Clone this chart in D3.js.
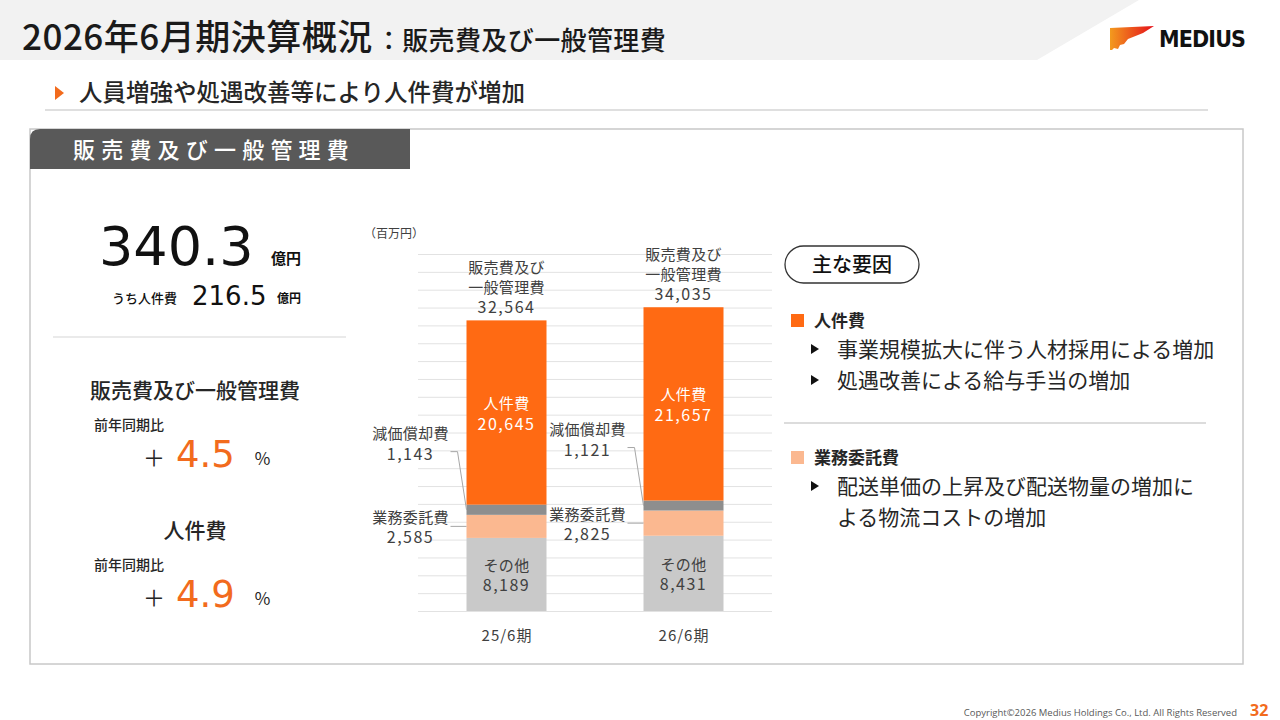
<!DOCTYPE html>
<html>
<head>
<meta charset="utf-8">
<script src="https://cdn.jsdelivr.net/npm/d3@7"></script>
<style>
  body { margin: 0; background: #fff; }
  svg { display: block; font-family: "Noto Sans CJK JP", "Noto Sans", sans-serif; }
</style>
</head>
<body>
<div id="slide"></div>
<script>
// chart data (百万円)
var periods = ['25/6期', '26/6期']
var segmentNames = ['その他', '業務委託費', '減価償却費', '人件費']
var otherVals = [8189, 8431]
var outsourcingVals = [2585, 2825]
var depreciationVals = [1143, 1121]
var personnelVals = [20645, 21657]
var totalVals = [32564, 34035]
var yMax = 40000
var gridStep = 2000

// left summary panel
var totalOku = '340.3'
var personnelOku = '216.5'
var sgaYoY = '4.5'
var personnelYoY = '4.9'

// right panel texts
var factorGroups = [
  { name: '人件費', color: '#FF6A13', lines: [['事業規模拡大に伴う人材採用による増加'], ['処遇改善による給与手当の増加']] },
  { name: '業務委託費', color: '#FBB890', lines: [['配送単価の上昇及び配送物量の増加に', 'よる物流コストの増加']] }
]

var colors = { 'その他': '#C9C9C9', '業務委託費': '#FBB890', '減価償却費': '#8E8E8E', '人件費': '#FF6A13' }
var textDark = '#262626'
var bigNumFont = '"DejaVu Sans", "Open Sans", sans-serif'

var svg = d3.select('#slide').append('svg')
  .attr('width', 1280)
  .attr('height', 720)
  .attr('viewBox', '0 0 1280 720')

// ---- header ----
svg.append('path')
  .attr('d', 'M0,0 L1139,0 L1037,60 L0,60 Z')
  .attr('fill', '#F2F2F2')

var title = svg.append('text')
  .attr('x', 22).attr('y', 50)
  .attr('fill', '#1a1a1a')
title.append('tspan').attr('font-size', 35).attr('font-weight', 500).attr('letter-spacing', 0.5).text('2026年6月期決算概況')
title.append('tspan').attr('font-size', 26).attr('font-weight', 500).attr('dx', 3).attr('letter-spacing', 0.4).text('：販売費及び一般管理費')

// logo
var grad = svg.append('defs').append('linearGradient').attr('id', 'logoGrad')
  .attr('x1', '0%').attr('x2', '100%')
grad.append('stop').attr('offset', '0%').attr('stop-color', '#F39A1E')
grad.append('stop').attr('offset', '100%').attr('stop-color', '#E50F1A')
svg.append('path')
  .attr('d', 'M1110,28 L1154,26 L1143,33 L1128,39 L1124,44 L1120,45 L1118,49 L1114,48 L1112,50 L1110,50 Z')
  .attr('fill', 'url(#logoGrad)')
svg.append('text')
  .attr('x', 1159).attr('y', 47)
  .attr('font-family', '"DejaVu Sans Condensed", "DejaVu Sans", sans-serif')
  .attr('font-weight', 'bold')
  .attr('font-size', 23)
  .attr('textLength', 87)
  .attr('fill', '#111')
  .text('MEDIUS')

// headline
svg.append('path').attr('d', 'M55,86 L64,93 L55,100 Z').attr('fill', '#F26B1D')
svg.append('text')
  .attr('x', 79).attr('y', 101)
  .attr('font-size', 23.5).attr('font-weight', 500)
  .attr('fill', textDark)
  .text('人員増強や処遇改善等により人件費が増加')
svg.append('line')
  .attr('x1', 45).attr('x2', 1208).attr('y1', 110).attr('y2', 110)
  .attr('stroke', '#BFBFBF').attr('stroke-width', 1)

// ---- panel ----
svg.append('rect')
  .attr('x', 30).attr('y', 129).attr('width', 1213).attr('height', 535)
  .attr('fill', 'none').attr('stroke', '#C8C8C8').attr('stroke-width', 1.5)
svg.append('path')
  .attr('d', 'M30,169 L30,139 Q30,129 40,129 L410,129 L410,169 Z')
  .attr('fill', '#595959')
svg.append('text')
  .attr('x', 73).attr('y', 158)
  .attr('font-size', 22).attr('font-weight', 500)
  .attr('letter-spacing', 6.2)
  .attr('fill', '#fff')
  .text('販売費及び一般管理費')

// ---- left summary ----
var left = svg.append('g')
left.append('text').attr('x', 99).attr('y', 265)
  .attr('font-family', bigNumFont)
  .attr('font-size', 54).attr('fill', '#111')
  .text(totalOku)
left.append('text').attr('x', 271).attr('y', 264)
  .attr('font-size', 15).attr('font-weight', 700).attr('fill', '#111')
  .text('億円')
left.append('text').attr('x', 112).attr('y', 303)
  .attr('font-size', 13).attr('font-weight', 500).attr('fill', '#111')
  .text('うち人件費')
left.append('text').attr('x', 192).attr('y', 305)
  .attr('font-family', bigNumFont)
  .attr('font-size', 26).attr('fill', '#111')
  .text(personnelOku)
left.append('text').attr('x', 277).attr('y', 303)
  .attr('font-size', 12).attr('font-weight', 700).attr('fill', '#111')
  .text('億円')
left.append('line')
  .attr('x1', 53).attr('x2', 346).attr('y1', 337).attr('y2', 337)
  .attr('stroke', '#E3E3E3').attr('stroke-width', 1.5)

function yoyBlock(label, value, top){
  left.append('text').attr('x', 195).attr('y', top)
    .attr('text-anchor', 'middle')
    .attr('font-size', 21).attr('font-weight', 500).attr('fill', textDark)
    .text(label)
  left.append('text').attr('x', 94).attr('y', top + 32)
    .attr('font-size', 14).attr('font-weight', 500).attr('fill', textDark)
    .text('前年同期比')
  left.append('text').attr('x', 143).attr('y', top + 68)
    .attr('font-size', 22).attr('fill', textDark)
    .text('＋')
  left.append('text').attr('x', 176).attr('y', top + 69)
    .attr('font-family', bigNumFont)
    .attr('font-size', 37).attr('fill', '#F26B1D')
    .text(value)
  left.append('text').attr('x', 254).attr('y', top + 67)
    .attr('font-size', 17).attr('fill', textDark)
    .text('％')
}
yoyBlock('販売費及び一般管理費', sgaYoY, 398)
yoyBlock('人件費', personnelYoY, 538)

// ---- stacked bar chart ----
var table = periods.map(function(p, i){
  return { period: p, 'その他': otherVals[i], '業務委託費': outsourcingVals[i], '減価償却費': depreciationVals[i], '人件費': personnelVals[i], total: totalVals[i] }
})

var x = d3.scalePoint().domain(periods).range([418, 772]).padding(0.5)
var y = d3.scaleLinear().domain([0, yMax]).range([611, 254])
var barW = 80

var chart = svg.append('g')

chart.append('g')
  .attr('transform', 'translate(418,0)')
  .call(d3.axisLeft(y).tickValues(d3.range(0, yMax + 1, gridStep)).tickSize(-354).tickFormat(''))
  .call(function(g){
    g.select('.domain').remove()
    g.selectAll('.tick line').attr('stroke', '#E2E2E2').attr('stroke-width', 1)
  })

chart.append('text')
  .attr('x', 364).attr('y', 232)
  .attr('dominant-baseline', 'central')
  .attr('font-size', 12).attr('fill', '#404040')
  .text('（百万円）')

var stack = d3.stack().keys(segmentNames)(table)

chart.selectAll('g.layer')
  .data(stack)
  .join('g')
  .attr('class', 'layer')
  .attr('fill', function(d){ return colors[d.key] })
  .selectAll('rect')
  .data(function(d){ return d })
  .join('rect')
  .attr('x', function(d){ return x(d.data.period) - barW / 2 })
  .attr('y', function(d){ return y(d[1]) })
  .attr('width', barW)
  .attr('height', function(d){ return y(d[0]) - y(d[1]) })

function multiline(g, cx, cy, lines, color, gap){
  var t = g.append('text')
    .attr('text-anchor', 'middle')
    .attr('font-size', 15)
    .attr('fill', color)
  lines.forEach(function(l, i){
    var isNum = /^[\d,]+$/.test(l)
    t.append('tspan')
      .attr('x', cx)
      .attr('y', cy + (i - (lines.length - 1) / 2) * gap)
      .attr('dominant-baseline', 'central')
      .attr('font-size', isNum ? 16 : 15)
      .attr('letter-spacing', isNum ? 1.5 : 0.3)
      .text(l)
  })
  return t
}

var fmt = d3.format(',')
var labelColor = '#404040'

stack.forEach(function(layer){
  layer.forEach(function(d){
    var cx = x(d.data.period)
    var mid = (y(d[0]) + y(d[1])) / 2
    var val = fmt(d[1] - d[0])
    if(layer.key === '人件費'){
      multiline(chart, cx, mid, ['人件費', val], '#fff', 20)
    } else if(layer.key === 'その他'){
      multiline(chart, cx, mid, ['その他', val], labelColor, 20)
    } else if(layer.key === '業務委託費'){
      var lx = cx - barW / 2 - 56
      multiline(chart, lx, mid, ['業務委託費', val], labelColor, 20)
      chart.append('line')
        .attr('x1', lx + 40).attr('x2', cx - barW / 2)
        .attr('y1', mid).attr('y2', mid)
        .attr('stroke', '#A6A6A6').attr('stroke-width', 1)
    } else if(layer.key === '減価償却費'){
      var lx2 = cx - barW / 2 - 56
      var ly = y(d[1]) - 62
      multiline(chart, lx2, ly, ['減価償却費', val], labelColor, 20)
      chart.append('polyline')
        .attr('points', [[lx2 + 40, ly + 9], [lx2 + 47, ly + 9], [cx - barW / 2, mid]].join(' '))
        .attr('fill', 'none')
        .attr('stroke', '#A6A6A6').attr('stroke-width', 1)
    }
  })
})

// totals
table.forEach(function(d){
  multiline(chart, x(d.period), y(d.total) - 34, ['販売費及び', '一般管理費', fmt(d.total)], labelColor, 20)
})

// x axis labels
chart.append('g')
  .attr('transform', 'translate(0,611)')
  .call(d3.axisBottom(x).tickSize(0).tickPadding(19))
  .call(function(g){
    g.select('.domain').remove()
    g.selectAll('text')
      .attr('font-family', '"Noto Sans CJK JP", sans-serif')
      .attr('font-size', 15).attr('fill', labelColor)
      .attr('letter-spacing', 1)
  })

// ---- right panel ----
var right = svg.append('g')
right.append('rect')
  .attr('x', 785).attr('y', 246).attr('width', 134).attr('height', 37).attr('rx', 18.5)
  .attr('fill', '#fff').attr('stroke', '#333').attr('stroke-width', 1.3)
right.append('text')
  .attr('x', 852).attr('y', 272)
  .attr('text-anchor', 'middle')
  .attr('font-size', 20).attr('font-weight', 500).attr('fill', '#111')
  .text('主な要因')

var groupTops = [320, 457]
factorGroups.forEach(function(gr, gi){
  var top = groupTops[gi]
  right.append('rect')
    .attr('x', 791).attr('y', top - 6).attr('width', 13).attr('height', 13)
    .attr('fill', gr.color)
  right.append('text')
    .attr('x', 814).attr('y', top + 7)
    .attr('font-size', 17).attr('font-weight', 700).attr('fill', textDark)
    .text(gr.name)
  var rowY = top + 37
  gr.lines.forEach(function(item){
    right.append('path')
      .attr('d', 'M811,' + (rowY - 13) + ' L819,' + (rowY - 8) + ' L811,' + (rowY - 3) + ' Z')
      .attr('fill', '#111')
    item.forEach(function(line){
      right.append('text')
        .attr('x', 837).attr('y', rowY)
        .attr('font-size', 21).attr('fill', textDark)
        .text(line)
      rowY += 31
    })
  })
})
right.append('line')
  .attr('x1', 784).attr('x2', 1206).attr('y1', 423).attr('y2', 423)
  .attr('stroke', '#D0D0D0').attr('stroke-width', 1.5)

// ---- footer ----
svg.append('text')
  .attr('x', 1237).attr('y', 716)
  .attr('text-anchor', 'end')
  .attr('font-family', '"Open Sans", "Noto Sans", sans-serif')
  .attr('font-size', 9.5).attr('fill', '#595959')
  .text('Copyright©2026 Medius Holdings Co., Ltd. All Rights Reserved')
svg.append('text')
  .attr('x', 1250).attr('y', 716)
  .attr('font-family', '"Open Sans", "Noto Sans", sans-serif')
  .attr('font-size', 16).attr('font-weight', 700).attr('fill', '#F26B1D')
  .text('32')
</script>
</body>
</html>
